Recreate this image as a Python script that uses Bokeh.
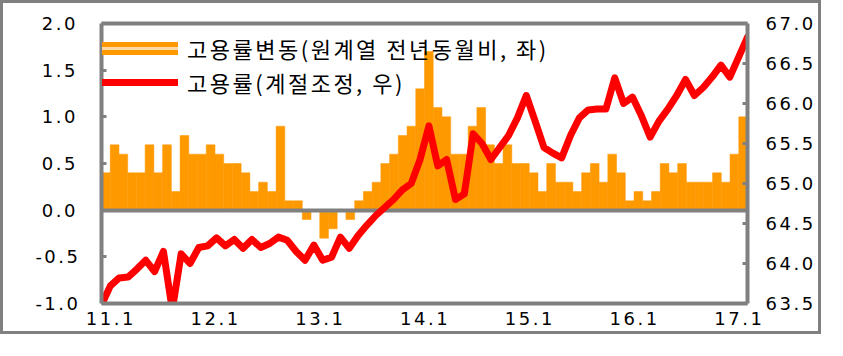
from bokeh.plotting import figure
from bokeh.models import Range1d, LinearAxis, FixedTicker, Legend, LegendItem
from bokeh.embed import file_html
from bokeh.resources import INLINE

# month index from 2011.1 to 2017.2
months = list(range(74))

# employment rate change, y/y (not seasonally adjusted, %p) - left axis
bar_values = [
    0.4, 0.7, 0.6, 0.4, 0.4, 0.7, 0.4, 0.7, 0.2, 0.8, 0.6, 0.6,   # 2011
    0.7, 0.6, 0.5, 0.5, 0.4, 0.2, 0.3, 0.2, 0.9, 0.1, 0.1, -0.1,  # 2012
    0.0, -0.3, -0.2, 0.0, -0.1, 0.1, 0.2, 0.3, 0.5, 0.6, 0.8, 0.9,  # 2013
    1.3, 1.7, 1.1, 1.0, 0.6, 0.6, 0.9, 1.1, 0.7, 0.5, 0.7, 0.5,   # 2014
    0.5, 0.4, 0.2, 0.5, 0.3, 0.3, 0.2, 0.4, 0.5, 0.3, 0.6, 0.4,   # 2015
    0.1, 0.2, 0.1, 0.2, 0.5, 0.4, 0.5, 0.3, 0.3, 0.3, 0.4, 0.3,   # 2016
    0.6, 1.0,                                                     # 2017
]

# employment rate, seasonally adjusted (%) - right axis
line_values = [
    63.48, 63.72, 63.82, 63.83, 63.93, 64.04, 63.90, 64.15, 63.42, 64.12, 64.00, 64.20,
    64.22, 64.32, 64.22, 64.30, 64.19, 64.30, 64.20, 64.25, 64.33, 64.29, 64.15, 64.04,
    64.23, 64.04, 64.08, 64.33, 64.19, 64.35, 64.48, 64.60, 64.70, 64.80, 64.92, 65.00,
    65.30, 65.72, 65.22, 65.30, 64.80, 64.87, 65.62, 65.50, 65.30, 65.45, 65.60, 65.82,
    66.10, 65.78, 65.45, 65.38, 65.32, 65.60, 65.82, 65.92, 65.93, 65.93, 66.32, 66.00,
    66.08, 65.85, 65.58, 65.78, 65.93, 66.10, 66.30, 66.10, 66.20, 66.33, 66.48, 66.33,
    66.58, 66.83,
]

x_tick_positions = [0, 12, 24, 36, 48, 60, 72]
x_tick_labels = ["11.1", "12.1", "13.1", "14.1", "15.1", "16.1", "17.1"]
left_ticks = [-1.0, -0.5, 0.0, 0.5, 1.0, 1.5, 2.0]
right_ticks = [63.5, 64.0, 64.5, 65.0, 65.5, 66.0, 66.5, 67.0]

bar_label = "고용률변동(원계열 전년동월비, 좌)"
line_label = "고용률(계절조정, 우)"

GRAY = "#808080"
ORANGE = "#FF9900"
RED = "#FF0000"
TICK_FONT = "DejaVu Sans"
TICK_SIZE = "18px"
FRAME_W = 4

p = figure(width=821, height=334, output_backend="svg", toolbar_location=None,
           x_range=Range1d(-0.5, 73.5), y_range=Range1d(-1.0, 2.0),
           min_border_left=0, min_border_right=77, min_border_top=0, min_border_bottom=34,
           background_fill_color="white", border_fill_color="white")
p.styles = {"border": "3px solid #808080", "letter-spacing": "2.5px"}
p.extra_x_ranges = {"line_x": Range1d(0, 73)}
p.extra_y_ranges = {"right": Range1d(63.5, 67.0)}

p.xgrid.visible = False
p.ygrid.visible = False
p.outline_line_color = None

la = p.yaxis[0]   # main left axis
xa = p.xaxis[0]   # bottom axis

# bars
bars = p.vbar(x=months, top=bar_values, bottom=0, width=1.0,
              fill_color=ORANGE, line_color=ORANGE, line_width=0.5)

# zero line
p.hspan(y=[0], line_color=GRAY, line_width=4)

# line on secondary axes (points from edge to edge)
line_r = p.line(x=months, y=line_values, x_range_name="line_x", y_range_name="right",
                line_color=RED, line_width=7, line_join="round", line_cap="round")

# legend proxies for the bar series (no visible data)
nan = float("nan")
leg_a = p.line(x=[nan], y=[nan], line_color=ORANGE, line_width=13, line_cap="round")
leg_b = p.line(x=[nan], y=[nan], line_color="#FFD8A8", line_width=3, line_cap="round")


def style_value_axis(ax, standoff):
    ax.axis_line_color = GRAY
    ax.axis_line_width = FRAME_W
    ax.major_tick_in = 5
    ax.major_tick_out = 0
    ax.major_tick_line_color = GRAY
    ax.major_tick_line_width = 3
    ax.minor_tick_line_color = None
    ax.major_label_standoff = standoff
    ax.major_label_text_font = TICK_FONT
    ax.major_label_text_font_size = TICK_SIZE
    ax.major_label_text_color = "#000000"


# left axis
la.ticker = FixedTicker(ticks=left_ticks)
la.major_label_overrides = {v: f"{v:.1f}" for v in left_ticks}
style_value_axis(la, 31)

# bottom axis
xa.ticker = FixedTicker(ticks=x_tick_positions)
xa.major_label_overrides = dict(zip(x_tick_positions, x_tick_labels))
xa.axis_line_color = GRAY
xa.axis_line_width = FRAME_W
xa.major_tick_line_color = None
xa.minor_tick_line_color = None
xa.major_tick_in = 0
xa.major_tick_out = 0
xa.major_label_standoff = 8
xa.major_label_text_font = TICK_FONT
xa.major_label_text_font_size = TICK_SIZE
xa.major_label_text_color = "#000000"

# spacer on the far left: invisible tick, no labels drawn
spacer = LinearAxis(ticker=FixedTicker(ticks=[0.5]), axis_line_color=None,
                    major_tick_in=0, major_tick_out=29,
                    major_tick_line_color="white", major_tick_line_alpha=0.01,
                    minor_tick_line_color=None, major_label_standoff=0,
                    major_label_text_color=None)
p.add_layout(spacer, "left")

# right axis
ra = LinearAxis(y_range_name="right", ticker=FixedTicker(ticks=right_ticks))
ra.major_label_overrides = {v: f"{v:.1f}" for v in right_ticks}
style_value_axis(ra, 18)
p.add_layout(ra, "right")

# top frame line with invisible spacing tick
ta = LinearAxis(ticker=FixedTicker(ticks=[36]), axis_line_color=GRAY, axis_line_width=FRAME_W,
                major_tick_in=0, major_tick_out=20,
                major_tick_line_color="white", major_tick_line_alpha=0.01,
                minor_tick_line_color=None, major_label_standoff=0,
                major_label_text_color=None)
p.add_layout(ta, "above")

legend = Legend(items=[LegendItem(label=bar_label, renderers=[leg_a, leg_b]),
                       LegendItem(label=line_label, renderers=[line_r])],
                location=(1, 204), orientation="vertical",
                background_fill_alpha=0.0, border_line_color=None,
                padding=0, margin=0, spacing=0,
                glyph_width=76, glyph_height=34, label_height=34, label_standoff=9,
                label_text_font="Noto Sans CJK KR", label_text_font_size="22px",
                label_text_color="#000000")
p.add_layout(legend)

open("out.html", "w").write(file_html(p, INLINE))
